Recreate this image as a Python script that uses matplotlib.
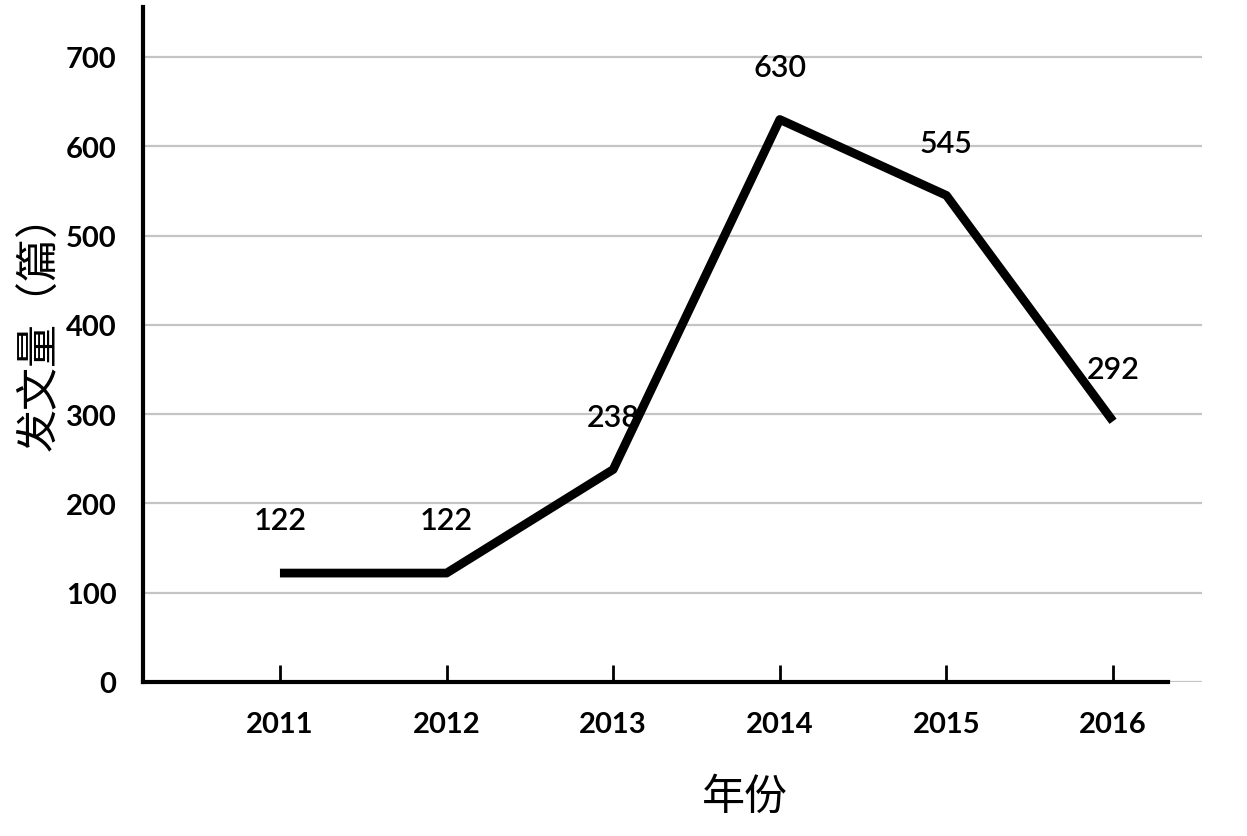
import matplotlib
matplotlib.use("Agg")
import matplotlib.pyplot as plt

# data
years = ["2011", "2012", "2013", "2014", "2015", "2016"]
counts = [122, 122, 238, 630, 545, 292]
yticks = [0, 100, 200, 300, 400, 500, 600, 700]

plt.rcParams['font.family'] = ['Lato', 'Noto Sans CJK SC', 'DejaVu Sans']

fig = plt.figure(figsize=(12.47, 8.37), dpi=100)
ax = fig.add_axes([143/1247, 1-683/837, (1202-143)/1247, (683-8)/837])

xs = list(range(len(years)))
ax.plot(xs, counts, color='black', lw=6.3, solid_capstyle='butt', zorder=3)

for x, v in zip(xs, counts):
    ax.annotate(str(v), (x, v), xytext=(0, 38), textcoords='offset points',
                ha='center', va='center', fontsize=22, fontweight='semibold', zorder=4)

ax.set_xlim(-0.822, 5.534)
ax.set_ylim(0, 756)
ax.set_yticks(yticks)
ax.set_xticks(xs)
ax.set_xticklabels(years)

for t in yticks:
    ax.axhline(t, color='#c4c4c4', lw=1.6, zorder=1)

ax.tick_params(axis='y', length=0, pad=19, labelsize=21)
ax.tick_params(axis='x', direction='in', length=12, width=2, pad=21, labelsize=21)
for lab in ax.get_xticklabels() + ax.get_yticklabels():
    lab.set_fontweight('bold')

for s in ['top', 'right']:
    ax.spines[s].set_visible(False)
ax.spines['left'].set_linewidth(3)
ax.spines['bottom'].set_linewidth(3)
ax.spines['bottom'].set_bounds(-0.822, 5.33)
ax.spines['bottom'].set_zorder(2)

ax.set_xlabel("年份", fontsize=31, family=['Noto Sans CJK SC', 'DejaVu Sans'])
ax.xaxis.set_label_coords(0.5685, -0.170)
ax.xaxis.label.set_va('center')
ax.set_ylabel("发文量（篇）", fontsize=31, family=['Noto Sans CJK SC', 'DejaVu Sans'])
ax.yaxis.set_label_coords(-0.097, 0.535)
ax.yaxis.label.set_va('center')

fig.savefig("out.png", dpi=100, facecolor='white')
